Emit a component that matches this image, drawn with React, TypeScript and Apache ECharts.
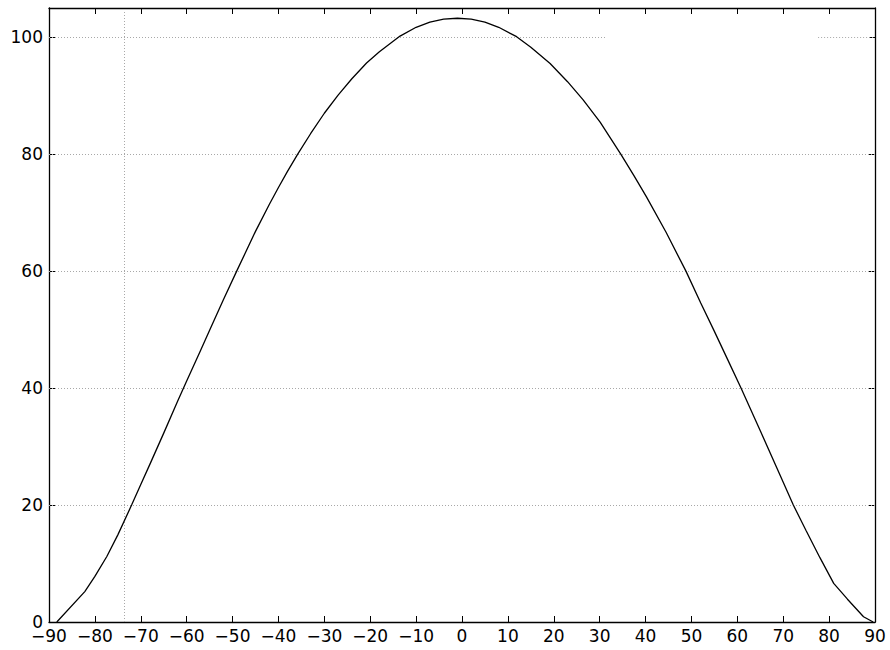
import React, { useEffect, useRef } from "react";
import * as echarts from "echarts";

const xValues = [
  -88.3, -82.2, -80, -77.4, -75, -72, -70, -68, -65, -62, -60, -57, -55, -52, -49.1, -45, -42,
  -40, -38, -35.8, -33, -30, -27, -24, -20.8, -18, -15, -13.5, -10, -7, -4, -1, 2, 5, 8, 11.9,
  15, 19.2, 23, 26.4, 30.1, 34.6, 37.5, 40.2, 44.5, 48.8, 52, 55, 58, 60.8, 65, 70, 72.2, 75, 78,
  81, 84, 87.5, 89.6,
];
const yValues = [
  0, 5.2, 7.8, 11.2, 14.9, 20.0, 23.5, 27.0, 32.3, 37.7, 41.2, 46.4, 49.9, 55.1, 60.0, 66.8,
  71.4, 74.3, 77.1, 80.0, 83.5, 87.0, 90.1, 92.9, 95.6, 97.5, 99.3, 100.2, 101.7, 102.6, 103.1,
  103.25, 103.1, 102.6, 101.7, 100.1, 98.3, 95.5, 92.4, 89.3, 85.5, 80.0, 76.3, 72.7, 66.6, 60.0,
  54.6, 49.7, 44.7, 40.0, 32.7, 23.9, 20.0, 15.6, 11.0, 6.6, 3.9, 0.9, 0,
];
const yGridValues = [20, 40, 60, 80];
const topGridSegments: [number, number][] = [
  [-90, 31.5],
  [77.6, 90],
];
const xGridValue = -73.5;

const fmt = (v: number) => String(v).replace("-", "\u2212");

export default function App() {
  const ref = useRef<HTMLDivElement>(null);
  useEffect(() => {
    if (!ref.current) return;
    const chart = echarts.init(ref.current, undefined, { renderer: "svg" });
    const gridStyle = { color: "#a8a8a8", width: 1, type: [1, 2] as number[] };
    const markData: any[] = [];
    yGridValues.forEach((v) => markData.push([{ coord: [-90, v] }, { coord: [90, v] }]));
    topGridSegments.forEach(([a, b]) => markData.push([{ coord: [a, 100] }, { coord: [b, 100] }]));
    markData.push([{ coord: [xGridValue, 0] }, { coord: [xGridValue, 104.3] }]);

    const axisLine = { show: true, onZero: false, lineStyle: { color: "#000", width: 1.3 } };
    const tick = { show: true, inside: true, length: 6, lineStyle: { color: "#000", width: 1 } };
    const labelStyle = {
      fontFamily: "DejaVu Sans",
      fontSize: 17,
      color: "#000",
    };
    chart.setOption({
      animation: false,
      backgroundColor: "#fff",
      grid: { left: 49, right: 15, top: 8, bottom: 28, containLabel: false },
      xAxis: [
        {
          type: "value",
          min: -90,
          max: 90,
          interval: 10,
          position: "bottom",
          axisLine,
          axisTick: tick,
          splitLine: { show: false },
          axisLabel: { ...labelStyle, margin: 5, formatter: (v: number) => fmt(v) },
        },
        {
          type: "value",
          min: -90,
          max: 90,
          interval: 10,
          position: "top",
          axisLine,
          axisTick: tick,
          splitLine: { show: false },
          axisLabel: { show: false },
        },
      ],
      yAxis: [
        {
          type: "value",
          min: 0,
          max: 105,
          interval: 20,
          position: "left",
          axisLine,
          axisTick: tick,
          splitLine: { show: false },
          axisLabel: {
            ...labelStyle,
            margin: 6,
            formatter: (v: number) => (v % 20 === 0 ? fmt(v) : ""),
          },
        },
        {
          type: "value",
          min: 0,
          max: 105,
          interval: 20,
          position: "right",
          axisLine,
          axisTick: tick,
          splitLine: { show: false },
          axisLabel: { show: false },
        },
      ],
      series: [
        {
          type: "line",
          xAxisIndex: 0,
          yAxisIndex: 0,
          data: xValues.map((x, i) => [x, yValues[i]]),
          showSymbol: false,
          symbol: "none",
          lineStyle: { color: "#000", width: 1.3 },
          z: 3,
          markLine: {
            silent: true,
            symbol: ["none", "none"],
            label: { show: false },
            lineStyle: gridStyle,
            emphasis: { disabled: true },
            data: markData,
            z: 1,
          },
        },
      ],
    });
    return () => chart.dispose();
  }, []);
  return (
    <div
      ref={ref}
      style={{ position: "fixed", left: 0, top: 0, width: 890, height: 650 }}
    />
  );
}
